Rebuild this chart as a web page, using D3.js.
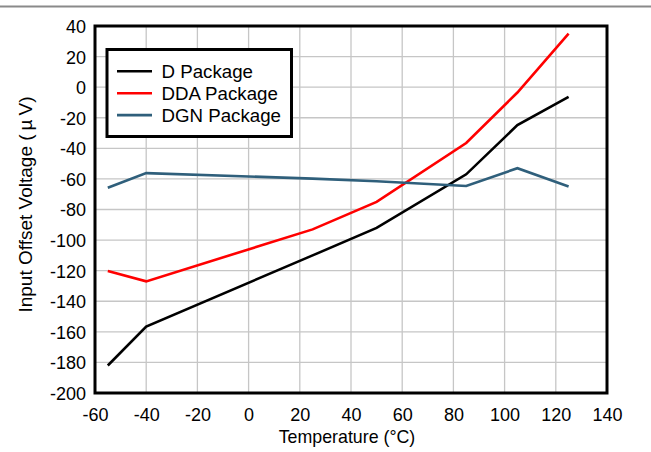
<!DOCTYPE html>
<html>
<head>
<meta charset="utf-8">
<script src="https://cdn.jsdelivr.net/npm/d3@7"></script>
<style>
  html, body { margin: 0; padding: 0; background: #fff; }
  svg { display: block; font-family: "Liberation Sans", Arial, sans-serif; }
</style>
</head>
<body>
<svg id="chart" width="651" height="452"></svg>
<script>
// ---- data ----
const temperatures = [-55, -40, 25, 50, 85, 105, 125];
const dPackage   = [-182, -156.5, -110, -92, -57, -24.8, -6.3];
const ddaPackage = [-120.2, -127, -93, -75, -36.5, -3.5, 35];
const dgnPackage = [-65.8, -56.2, -59.8, -61.5, -64.6, -53, -65];
const seriesNames = ["D Package", "DDA Package", "DGN Package"];
const seriesColors = ["#000000", "#ff0000", "#2f5f7b"];
const xTicks = [-60, -40, -20, 0, 20, 40, 60, 80, 100, 120, 140];
const yTicks = [40, 20, 0, -20, -40, -60, -80, -100, -120, -140, -160, -180, -200];

const seriesValues = [dPackage, ddaPackage, dgnPackage];

const svg = d3.select("#chart");
const pL = 95, pR = 607, pT = 26, pB = 393;
const FONT = "Liberation Sans, Arial, sans-serif";

const x = d3.scaleLinear().domain([-60, 140]).range([pL, pR]);
const y = d3.scaleLinear().domain([-200, 40]).range([pB, pT]);

// top gray rule
svg.append("line")
  .attr("x1", 0).attr("x2", 651).attr("y1", 6.5).attr("y2", 6.5)
  .attr("stroke", "#8a8a8a").attr("stroke-width", 2);

// grid
const grid = svg.append("g");
grid.selectAll(".vg").data(xTicks).join("line")
  .attr("x1", d => x(d)).attr("x2", d => x(d))
  .attr("y1", pT).attr("y2", pB)
  .attr("stroke", "#c6c6c6").attr("stroke-width", 1.3);
grid.selectAll(".hg").data(yTicks).join("line")
  .attr("x1", pL).attr("x2", pR)
  .attr("y1", d => y(d)).attr("y2", d => y(d))
  .attr("stroke", "#c6c6c6").attr("stroke-width", 1.3);

// axes (labels only)
const fmt = d => String(d);
const xAxis = d3.axisBottom(x).tickValues(xTicks).tickSize(0).tickPadding(0).tickFormat(fmt);
const gx = svg.append("g").attr("transform", `translate(0,${pB})`).call(xAxis);
gx.select(".domain").remove();
gx.selectAll("text").attr("y", 28).attr("dy", null)
  .attr("font-size", 18).attr("fill", "#000").attr("font-family", FONT);

const yAxis = d3.axisLeft(y).tickValues(yTicks).tickSize(0).tickPadding(0).tickFormat(fmt);
const gy = svg.append("g").attr("transform", `translate(${pL},0)`).call(yAxis);
gy.select(".domain").remove();
gy.selectAll("text").attr("x", -9).attr("dy", "0.36em")
  .attr("font-size", 18).attr("fill", "#000").attr("font-family", FONT);

// lines
const line = d3.line().x((d, i) => x(temperatures[i])).y(d => y(d));
svg.append("g").selectAll("path").data(seriesValues).join("path")
  .attr("d", d => line(d))
  .attr("fill", "none")
  .attr("stroke", (d, i) => seriesColors[i])
  .attr("stroke-width", 2.6)
  .attr("stroke-linejoin", "miter");

// frame
svg.append("rect")
  .attr("x", pL).attr("y", pT).attr("width", pR - pL).attr("height", pB - pT)
  .attr("fill", "none").attr("stroke", "#000").attr("stroke-width", 3);

// legend
const lg = svg.append("g");
lg.append("rect").attr("x", 107).attr("y", 49.5).attr("width", 184.5).attr("height", 87)
  .attr("fill", "#fff").attr("stroke", "#000").attr("stroke-width", 3);
seriesNames.forEach((name, i) => {
  const yy = 71.3 + i * 21.9;
  lg.append("line").attr("x1", 117).attr("x2", 152).attr("y1", yy).attr("y2", yy)
    .attr("stroke", seriesColors[i]).attr("stroke-width", 2.6);
  lg.append("text").attr("x", 161.5).attr("y", yy).attr("dy", "0.36em")
    .attr("font-size", 18.7).attr("fill", "#000").text(name);
});

// axis titles
svg.append("text").attr("x", (pL + pR) / 2 - 4).attr("y", 443)
  .attr("text-anchor", "middle").attr("font-size", 17.8).attr("fill", "#000")
  .text("Temperature (\u00B0C)");
const yt = svg.append("text")
  .attr("transform", `translate(32,${(pT + pB) / 2 - 5}) rotate(-90)`)
  .attr("text-anchor", "middle").attr("font-size", 19).attr("fill", "#000");
yt.append("tspan").text("Input Offset Voltage (");
yt.append("tspan").attr("dx", 4).text("\u00B5");
yt.append("tspan").attr("dx", 4).text("V)");
</script>
</body>
</html>
